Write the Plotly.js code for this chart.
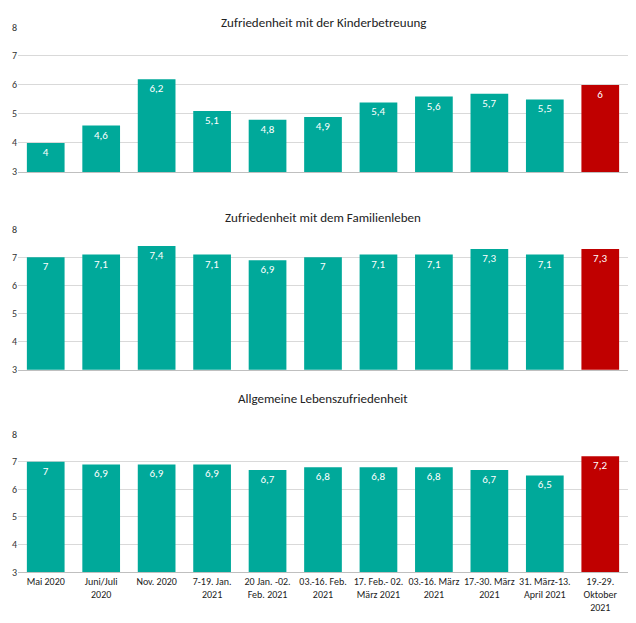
<!DOCTYPE html>
<html>
<head>
<meta charset="utf-8">
<script src="https://cdn.plot.ly/plotly-3.0.1.min.js"></script>
<style>body{margin:0;background:#fff}</style>
</head>
<body>
<div id="chart" style="width:636px;height:623px"></div>
<script>
const categories = ["Mai 2020", "Juni/Juli<br>2020", "Nov. 2020", "7-19. Jan.<br>2021", "20 Jan. -02.<br>Feb. 2021",
	"03.-16. Feb.<br>2021", "17. Feb.- 02.<br>März 2021", "03.-16. März<br>2021", "17.-30. März<br>2021",
	"31. März-13.<br>April 2021", "19.-29.<br>Oktober<br>2021"]
const kinderbetreuung = [4, 4.6, 6.2, 5.1, 4.8, 4.9, 5.4, 5.6, 5.7, 5.5, 6]
const familienleben = [7, 7.1, 7.4, 7.1, 6.9, 7, 7.1, 7.1, 7.3, 7.1, 7.3]
const lebenszufriedenheit = [7, 6.9, 6.9, 6.9, 6.7, 6.8, 6.8, 6.8, 6.7, 6.5, 7.2]
const titles = ["Zufriedenheit mit der Kinderbetreuung", "Zufriedenheit mit dem Familienleben", "Allgemeine Lebenszufriedenheit"]

const teal = "#00A99A", red = "#C00000"
const font = "Carlito, 'Liberation Sans', sans-serif"
const colors = categories.map((c, i) => i == categories.length - 1 ? red : teal)
const series = [kinderbetreuung, familienleben, lebenszufriedenheit]
const ids = categories.map((c, i) => "c" + i)

var data = series.map((vals, k) => ({
	type: "bar",
	x: ids,
	y: vals,
	base: 0,
	text: vals.map(v => String(v).replace(".", ",")),
	textposition: "inside",
	insidetextanchor: "end",
	textfont: { color: "white", size: 11, family: font },
	marker: { color: colors },
	xaxis: k == 0 ? "x" : "x" + (k + 1),
	yaxis: k == 0 ? "y" : "y" + (k + 1),
	hoverinfo: "none"
}))

const domains = [[0.734, 1], [0.371, 0.629], [0, 0.253]]
const titleY = [1.026, 0.668, 0.301]

var layout = {
	width: 636, height: 623,
	margin: { l: 18, r: 8, t: 27, b: 51 },
	showlegend: false,
	bargap: 0.32,
	paper_bgcolor: "white", plot_bgcolor: "white",
	font: { family: font, size: 10, color: "#333" },
	annotations: titles.map((t, k) => ({
		text: t, xref: "paper", yref: "paper", x: 0.5, y: titleY[k],
		showarrow: false, font: { size: 13, color: "#222", family: font }
	}))
}
for (var k = 0; k < 3; ++k) {
	const sx = k == 0 ? "" : String(k + 1)
	layout["xaxis" + sx] = {
		anchor: "y" + sx,
		tickvals: ids,
		ticktext: categories,
		showticklabels: k == 2,
		tickfont: { size: 10, color: "#222" },
		showline: true, linecolor: "#bfbfbf", ticks: ""
	}
	layout["yaxis" + sx] = {
		domain: domains[k],
		range: [3, 8], dtick: 1,
		gridcolor: "#d9d9d9", zeroline: false,
		tickfont: { size: 10, color: "#333" }
	}
}

Plotly.newPlot("chart", data, layout, { displayModeBar: false, staticPlot: true })
</script>
</body>
</html>
